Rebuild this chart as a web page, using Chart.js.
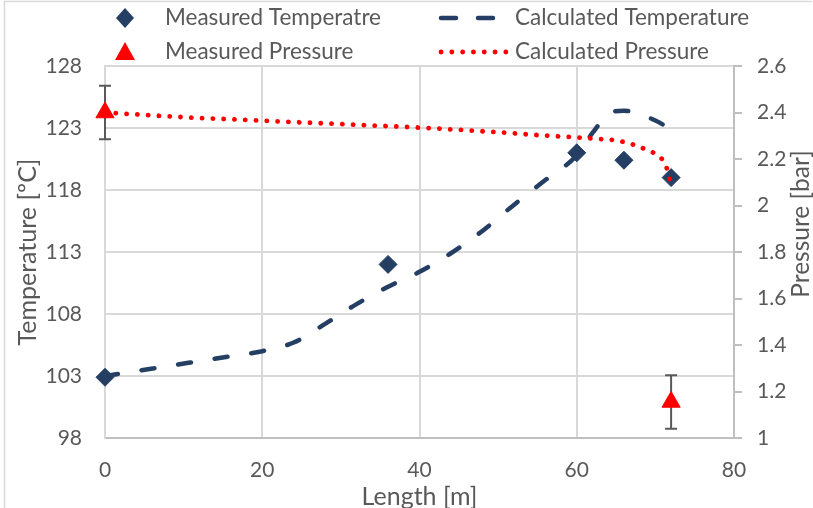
<!DOCTYPE html>
<html>
<head>
<meta charset="utf-8">
<script src="https://cdn.jsdelivr.net/npm/chart.js@4.4.1/dist/chart.umd.min.js"></script>
<style>
  html, body { margin: 0; padding: 0; background: #fff; }
  #wrap { width: 813px; height: 508px; position: relative; }
</style>
</head>
<body>
<div id="wrap"><canvas id="c" width="813" height="508"></canvas></div>
<script>
// Measured temperature along the reactor length
const measTempX = [0, 36, 60, 66, 72];
const measTempY = [102.9, 112.0, 121.0, 120.4, 119.0];

// Calculated temperature profile
const calcTempX = [0, 4, 8, 12, 16, 20, 24, 28, 32, 36, 40, 44, 48, 52, 56, 60, 62, 64, 66, 68, 70, 72];
const calcTempY = [103.0, 103.4, 103.8, 104.2, 104.6, 105.0, 105.7, 107.2, 108.8, 110.2, 111.4, 112.9, 114.7, 116.8, 118.8, 120.8, 122.6, 124.1, 124.4, 124.1, 123.6, 122.9];

// Measured pressure with its uncertainty
const measPresX = [0, 72];
const measPresY = [2.40, 1.155];
const measPresErr = [0.115, 0.115];

// Calculated pressure profile
const calcPresX = [0, 10, 20, 30, 40, 50, 55, 60, 63, 65, 67, 69, 70.5, 71.3, 72];
const calcPresY = [2.40, 2.38, 2.365, 2.35, 2.335, 2.315, 2.303, 2.293, 2.286, 2.28, 2.264, 2.238, 2.21, 2.175, 2.09];

// Axis ranges and tick steps
const lengthTicks = [0, 20, 40, 60, 80];
const tempTicks = [98, 103, 108, 113, 118, 123, 128];
const presTicks = [1, 1.2, 1.4, 1.6, 1.8, 2, 2.2, 2.4, 2.6];

const NAVY = '#243F63';
const RED = '#FF0000';
const TEXT = '#595959';
const GRID = '#D9D9D9';
const AXIS = '#BFBFBF';
const FONT = 'Lato';

const pts = (xs, ys) => xs.map((x, i) => ({ x, y: ys[i] }));

// Vertical error bars for the measured pressure points
const errorBars = {
  id: 'errorBars',
  beforeDatasetsDraw(chart) {
    const { ctx, scales } = chart;
    const xs = scales.x, ys = scales.yP;
    ctx.save();
    ctx.strokeStyle = TEXT;
    ctx.lineWidth = 2;
    measPresX.forEach((x, i) => {
      const px = xs.getPixelForValue(x);
      const top = ys.getPixelForValue(measPresY[i] + measPresErr[i]);
      const bot = ys.getPixelForValue(measPresY[i] - measPresErr[i]);
      ctx.beginPath();
      ctx.moveTo(px, top); ctx.lineTo(px, bot);
      ctx.moveTo(px - 6, top); ctx.lineTo(px + 6, top);
      ctx.moveTo(px - 6, bot); ctx.lineTo(px + 6, bot);
      ctx.stroke();
    });
    ctx.restore();
  }
};

// Two-column legend above the plot, right axis title and outer frame
const decorations = {
  id: 'decorations',
  afterDraw(chart) {
    const { ctx } = chart;
    const ds = chart.data.datasets;
    const rowsY = [18, 52];
    const markX = 125, lineX0 = 439, lineX1 = 508;
    const textX = [165, 515];
    ctx.save();
    ctx.font = `22.5px ${FONT}`;
    ctx.textBaseline = 'middle';
    ctx.textAlign = 'left';
    ds.forEach((d, i) => {
      const col = i % 2, row = Math.floor(i / 2);
      const y = rowsY[row];
      if (d.legendKind === 'diamond') {
        ctx.fillStyle = d.backgroundColor;
        ctx.beginPath();
        ctx.moveTo(markX, y - 10); ctx.lineTo(markX + 9, y);
        ctx.lineTo(markX, y + 10); ctx.lineTo(markX - 9, y);
        ctx.closePath(); ctx.fill();
      } else if (d.legendKind === 'triangle') {
        ctx.fillStyle = d.backgroundColor;
        ctx.beginPath();
        ctx.moveTo(markX, y - 10); ctx.lineTo(markX + 10, y + 8);
        ctx.lineTo(markX - 10, y + 8); ctx.closePath(); ctx.fill();
      } else {
        ctx.strokeStyle = d.borderColor;
        ctx.lineWidth = d.borderWidth;
        ctx.lineCap = 'round';
        ctx.setLineDash(d.legendKind === 'dash' ? [15, 22] : [0.1, 10.7]);
        ctx.beginPath();
        ctx.moveTo(lineX0 + 2, y); ctx.lineTo(lineX1, y);
        ctx.stroke();
        ctx.setLineDash([]);
      }
      ctx.fillStyle = TEXT;
      ctx.fillText(d.label, textX[col], y);
    });

    // Right axis title, reading bottom to top
    ctx.font = `24.5px ${FONT}`;
    ctx.textAlign = 'center';
    ctx.translate(801, 224);
    ctx.rotate(-Math.PI / 2);
    ctx.fillText('Pressure [bar]', 0, 0);
    ctx.restore();

    // Outer frame edges
    ctx.save();
    ctx.strokeStyle = GRID;
    ctx.lineWidth = 1.5;
    ctx.beginPath();
    ctx.moveTo(4.5, 508); ctx.lineTo(4.5, 1.5); ctx.lineTo(812, 1.5);
    ctx.stroke();
    ctx.restore();
  }
};

new Chart(document.getElementById('c'), {
  type: 'scatter',
  data: {
    datasets: [
      {
        label: 'Measured Temperatre',
        legendKind: 'diamond',
        data: pts(measTempX, measTempY),
        yAxisID: 'yT',
        pointStyle: 'rectRot',
        pointRadius: 9,
        backgroundColor: NAVY,
        borderColor: NAVY,
        borderWidth: 1,
        showLine: false,
        clip: false,
        order: 3
      },
      {
        label: 'Calculated Temperature',
        legendKind: 'dash',
        data: pts(calcTempX, calcTempY),
        yAxisID: 'yT',
        showLine: true,
        pointRadius: 0,
        borderColor: NAVY,
        backgroundColor: NAVY,
        borderWidth: 4.5,
        borderDash: [13, 24],
        borderCapStyle: 'round',
        cubicInterpolationMode: 'monotone',
        order: 4
      },
      {
        label: 'Measured Pressure',
        legendKind: 'triangle',
        data: pts(measPresX, measPresY),
        yAxisID: 'yP',
        pointStyle: 'triangle',
        pointRadius: 10.5,
        backgroundColor: RED,
        borderColor: RED,
        borderWidth: 1,
        showLine: false,
        clip: false,
        order: 1
      },
      {
        label: 'Calculated Pressure',
        legendKind: 'dot',
        data: pts(calcPresX, calcPresY),
        yAxisID: 'yP',
        showLine: true,
        pointRadius: 0,
        borderColor: RED,
        backgroundColor: RED,
        borderWidth: 4.8,
        borderDash: [0.1, 10.7],
        borderCapStyle: 'round',
        cubicInterpolationMode: 'monotone',
        order: 2
      }
    ]
  },
  options: {
    responsive: false,
    animation: false,
    events: [],
    layout: { padding: { top: 66, left: 0, right: 0, bottom: 0 } },
    plugins: { legend: { display: false }, tooltip: { enabled: false } },
    scales: {
      x: {
        type: 'linear',
        min: lengthTicks[0],
        max: lengthTicks[lengthTicks.length - 1],
        ticks: { stepSize: lengthTicks[1] - lengthTicks[0], color: TEXT, font: { family: FONT, size: 21 }, padding: 20 },
        grid: { color: GRID, lineWidth: 2, drawTicks: false },
        border: { color: AXIS, width: 2 },
        title: { display: true, text: 'Length [m]', color: TEXT, font: { family: FONT, size: 25, lineHeight: 1 }, padding: { top: 0, bottom: -1 } },
        afterFit: s => { s.height = 70; }
      },
      yT: {
        position: 'left',
        min: tempTicks[0],
        max: tempTicks[tempTicks.length - 1],
        ticks: { stepSize: tempTicks[1] - tempTicks[0], color: TEXT, font: { family: FONT, size: 21 }, padding: 23 },
        grid: { color: GRID, lineWidth: 2, drawTicks: false },
        border: { color: GRID, width: 2 },
        title: { display: true, text: 'Temperature [ºC]', color: TEXT, font: { family: FONT, size: 25, lineHeight: 1.2 }, padding: { top: 13, bottom: 0 } },
        afterFit: s => { s.width = 105; }
      },
      yP: {
        position: 'right',
        min: presTicks[0],
        max: presTicks[presTicks.length - 1],
        ticks: {
          stepSize: 0.2,
          color: TEXT,
          font: { family: FONT, size: 21 },
          padding: 15,
          callback: v => String(+Number(v).toFixed(1))
        },
        grid: { color: AXIS, lineWidth: 2, drawOnChartArea: false, drawTicks: true, tickLength: 8 },
        border: { color: AXIS, width: 2 },
        afterFit: s => { s.width = 79; }
      }
    }
  },
  plugins: [errorBars, decorations]
});
</script>
</body>
</html>
